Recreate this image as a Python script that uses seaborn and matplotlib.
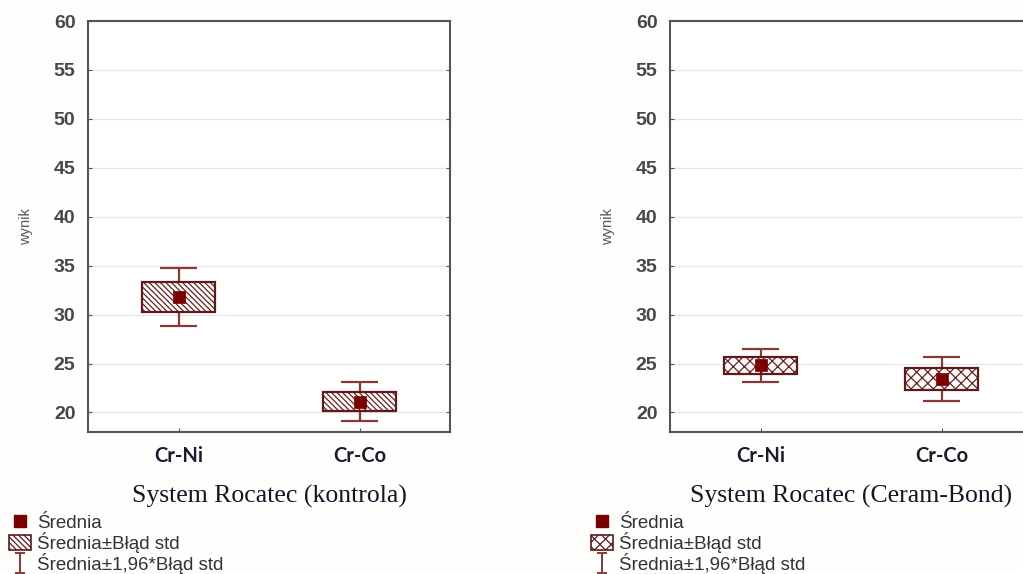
import numpy as np
import pandas as pd
import matplotlib
matplotlib.use("Agg")
import matplotlib.pyplot as plt
import seaborn as sns
from matplotlib.lines import Line2D
from matplotlib.patches import Patch
from matplotlib.path import Path

# ---- data ----
categories = ["Cr-Ni", "Cr-Co"]
panel_titles = ["System Rocatec (kontrola)", "System Rocatec (Ceram-Bond)"]
means_kontrola = [31.8, 21.1]
se_kontrola = [1.5, 1.0]
means_ceram = [24.8, 23.4]
se_ceram = [0.85, 1.15]
ci_factor = 1.96
yticks = [20, 25, 30, 35, 40, 45, 50, 55, 60]
legend_labels = ["Średnia", "Średnia±Błąd std", "Średnia±1,96*Błąd std"]

sns.set_style("white")
plt.rcParams["font.family"] = ["Liberation Sans", "DejaVu Sans"]
plt.rcParams["hatch.linewidth"] = 0.9

BG = "#fefefc"
MEAN_C = "#7a0000"
EDGE_C = "#5e1a1a"
WHISK_C = "#8a3838"
HATCH_C = "#6b1f1f"
SPINE_C = "#555555"

fig = plt.figure(figsize=(10.23, 5.74), dpi=100, facecolor=BG)

W, H = 1023, 574
panels = [
    (88, panel_titles[0], means_kontrola, se_kontrola, "\\\\\\\\\\\\"),
    (670, panel_titles[1], means_ceram, se_ceram, "xxx"),
]

for left_px, title, means, ses, hatch in panels:
    ax = fig.add_axes([left_px / W, 1 - 432 / H, 362 / W, 411 / H])
    ax.set_facecolor("white")
    df = pd.DataFrame({"kat": categories, "mean": means, "se": ses})
    df["lo"] = df["mean"] - df["se"]
    df["hi"] = df["mean"] + df["se"]
    df["wlo"] = df["mean"] - ci_factor * df["se"]
    df["whi"] = df["mean"] + ci_factor * df["se"]
    xpos = np.arange(len(categories))

    # whiskers (mean ± 1.96 SE)
    ax.vlines(xpos, df["wlo"], df["whi"], color=WHISK_C, lw=1.6, zorder=2)
    ax.hlines(df["wlo"], xpos - 0.1, xpos + 0.1, color=WHISK_C, lw=1.6, zorder=2)
    ax.hlines(df["whi"], xpos - 0.1, xpos + 0.1, color=WHISK_C, lw=1.6, zorder=2)
    # box (mean ± SE)
    ax.bar(xpos, df["hi"] - df["lo"], bottom=df["lo"], width=0.4,
           facecolor="white", edgecolor=HATCH_C, hatch=hatch, lw=0, zorder=3)
    ax.bar(xpos, df["hi"] - df["lo"], bottom=df["lo"], width=0.4,
           facecolor="none", edgecolor=EDGE_C, lw=1.6, zorder=4)
    # mean markers
    sns.scatterplot(x=xpos, y=df["mean"], marker="s", s=80, color=MEAN_C,
                    edgecolor=MEAN_C, linewidth=0.5, ax=ax, zorder=5, legend=False)

    ax.set_xlim(-0.5, 1.5)
    ax.set_ylim(18, 60)
    ax.set_yticks(yticks)
    ax.set_xticks(xpos)
    ax.set_xticklabels(categories, fontfamily="Lato", fontweight="bold",
                       fontsize=14.5, color="#1c1c2c")
    for lab in ax.get_yticklabels():
        lab.set_fontweight("bold")
        lab.set_color("#474747")
        lab.set_fontsize(14)
    ax.grid(axis="y", color="#e6e6e6", lw=0.9, zorder=0)
    ax.set_axisbelow(True)
    ax.tick_params(axis="y", direction="in", length=3, color=SPINE_C,
                   left=True, right=True, pad=9)
    ax.tick_params(axis="x", direction="in", length=3, color=SPINE_C,
                   bottom=True, pad=10)
    for sp in ax.spines.values():
        sp.set_color(SPINE_C)
        sp.set_linewidth(1.5)
        sp.set_visible(True)
    ax.set_ylabel("wynik", fontsize=10.5, color="#555555", labelpad=15)
    ax.set_xlabel(title, fontfamily=["Liberation Serif"], fontsize=18.5,
                  color="#151525", labelpad=14)

    # legend
    ibeam = Path([(-0.5, 1), (0.5, 1), (0, 1), (0, -1), (-0.5, -1), (0.5, -1)],
                 [Path.MOVETO, Path.LINETO, Path.MOVETO, Path.LINETO,
                  Path.MOVETO, Path.LINETO])
    handles = [
        Line2D([], [], marker="s", color=MEAN_C, ls="none", markersize=8),
        Patch(facecolor="white", edgecolor=EDGE_C, hatch=hatch, lw=1.2),
        Line2D([], [], marker=ibeam, color=WHISK_C, ls="none", markersize=14,
               markeredgewidth=1.4),
    ]
    leg_x = (left_px - 88 + 9) / W
    fig.legend(handles, legend_labels, loc="upper left",
               bbox_to_anchor=(leg_x, 1 - 514 / H), frameon=False,
               fontsize=13.5, handlelength=1.15, handleheight=0.85,
               handletextpad=0.35, labelspacing=0.0, borderpad=0,
               borderaxespad=0, labelcolor="#333333")

fig.savefig("out.png", dpi=100, facecolor=BG)
